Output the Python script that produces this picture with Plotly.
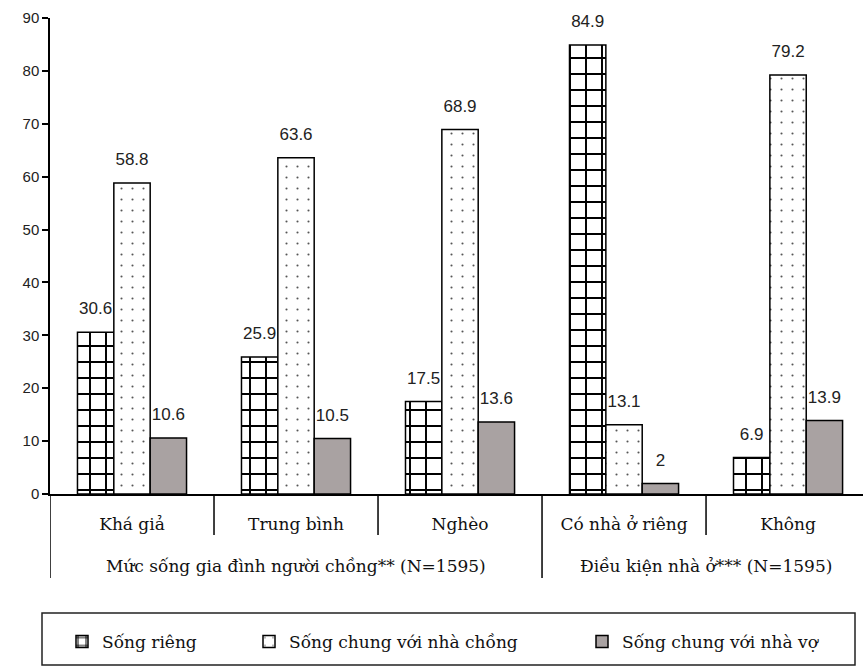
import plotly.graph_objects as go

# Household living standard / housing categories
categories = ["Khá giả", "Trung bình", "Nghèo", "Có nhà ở riêng", "Không"]
group_labels = ["Mức sống gia đình người chồng** (N=1595)",
                "Điều kiện nhà ở*** (N=1595)"]

# Share of couples (%) by living arrangement
series_names = ["Sống riêng", "Sống chung với nhà chồng", "Sống chung với nhà vợ"]
song_rieng = [30.6, 25.9, 17.5, 84.9, 6.9]
chung_nha_chong = [58.8, 63.6, 68.9, 13.1, 79.2]
chung_nha_vo = [10.6, 10.5, 13.6, 2, 13.9]

y_ticks = [0, 10, 20, 30, 40, 50, 60, 70, 80, 90]

x = list(range(len(categories)))

W, H = 863, 671
L, R, T, B = 50, 0, 18, 177
plot_h = H - T - B
BARGAP = 0.335


def py(pix):
    """pixel row -> paper y"""
    return (H - B - pix) / plot_h


def px(pix):
    """pixel column -> paper x"""
    return (pix - L) / (W - L - R)


serif = "DejaVu Serif"
sans = "Liberation Sans, Arial, sans-serif"
label_font = dict(family=sans, size=17, color="#222")

markers = [
    dict(color="white", line=dict(color="black", width=1.5),
         pattern=dict(shape="+", fgcolor="black", bgcolor="white",
                      size=16, solidity=0.23, fillmode="replace")),
    dict(color="white", line=dict(color="black", width=1.5),
         pattern=dict(shape=".", fgcolor="#555", bgcolor="white",
                      size=11, solidity=0.03, fillmode="replace")),
    dict(color="#a9a2a2", line=dict(color="black", width=1.5)),
]
legends = ["legend", "legend2", "legend3"]

fig = go.Figure()

for name, values, mk, lg in zip(series_names,
                                [song_rieng, chung_nha_chong, chung_nha_vo],
                                markers, legends):
    fig.add_trace(go.Bar(x=x, y=values, name=name, marker=mk, legend=lg))

# value labels: grouped text points sitting above each bar; the invisible
# marker size sets how far the number floats above the bar top
for values in [song_rieng, chung_nha_chong, chung_nha_vo]:
    fig.add_trace(go.Scatter(
        x=x, y=values, mode="markers+text", orientation="v",
        text=[f"{v:g}" for v in values], textposition="top center",
        textfont=label_font, marker=dict(size=20, opacity=0),
        cliponaxis=False, showlegend=False, hoverinfo="skip",
    ))

shapes = []
# category separators below the axis (long ones bound the two groups)
for xv, bottom in [(-0.5, 578), (0.5, 535), (1.5, 535), (2.5, 578), (3.5, 535)]:
    shapes.append(dict(type="line", xref="x", yref="paper",
                       x0=xv, x1=xv, y0=0, y1=py(bottom),
                       line=dict(color="black", width=1.5)))
# legend frame
shapes.append(dict(type="rect", xref="paper", yref="paper",
                   x0=px(42), x1=px(855), y0=py(665), y1=py(613),
                   line=dict(color="#222", width=1.5), fillcolor="rgba(0,0,0,0)"))

group_font = dict(family=serif, size=17, color="#111")
annotations = [
    dict(text=group_labels[0], xref="x", yref="paper", x=1.0, y=py(566),
         yanchor="middle", showarrow=False, font=group_font),
    dict(text=group_labels[1], xref="x", yref="paper", x=3.5, y=py(566),
         yanchor="middle", showarrow=False, font=group_font),
]

leg_common = dict(orientation="h", yanchor="middle", xanchor="left",
                  y=py(642), font=dict(family=serif, size=17, color="#111"),
                  bgcolor="rgba(0,0,0,0)", borderwidth=0)

fig.update_layout(
    width=W, height=H,
    margin=dict(l=L, r=R, t=T, b=B),
    paper_bgcolor="white", plot_bgcolor="white",
    barmode="group", bargap=BARGAP, bargroupgap=0,
    scattermode="group", scattergap=BARGAP,
    showlegend=True,
    legend=dict(x=px(62), **leg_common),
    legend2=dict(x=px(249), **leg_common),
    legend3=dict(x=px(582), **leg_common),
    xaxis=dict(range=[-0.5, 4.457], tickmode="array", tickvals=x,
               ticktext=categories, showline=True, linecolor="black",
               linewidth=1.5, ticks="", showgrid=False, zeroline=False,
               ticklabelstandoff=14,
               tickfont=dict(family=serif, size=17, color="#111")),
    yaxis=dict(range=[0, 90], tickmode="array", tickvals=y_ticks,
               showline=True, linecolor="black", linewidth=1.5,
               ticks="outside", ticklen=6, tickwidth=1.5, tickcolor="black",
               showgrid=False, zeroline=False,
               tickfont=dict(family=sans, size=15, color="#222")),
    shapes=shapes, annotations=annotations,
)

fig.write_html("out.html")
